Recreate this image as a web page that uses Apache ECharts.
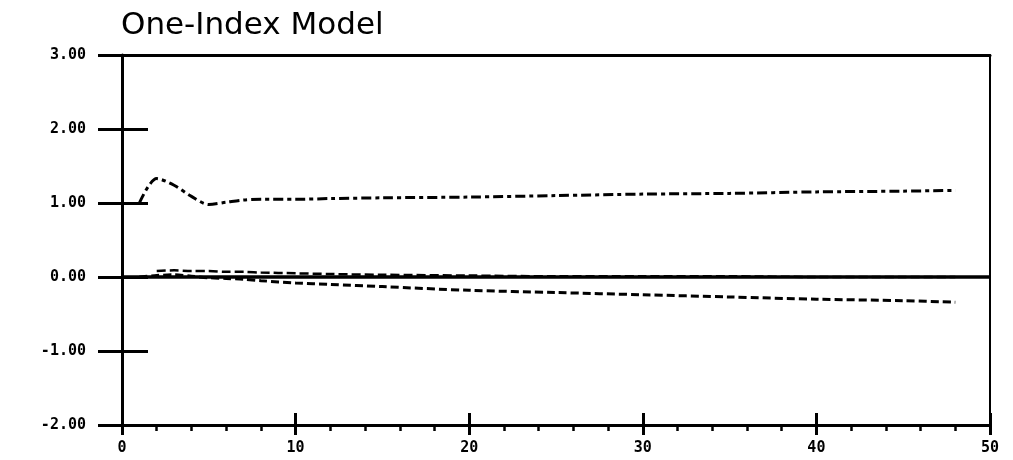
<!DOCTYPE html>
<html>
<head>
<meta charset="utf-8">
<script src="https://cdn.jsdelivr.net/npm/echarts@6/dist/echarts.min.js"></script>
<style>
html,body{margin:0;padding:0;background:#fff;}
#chart{width:1013px;height:460px;}
</style>
</head>
<body>
<div id="chart"></div>
<script>
// Data
const titleText = 'One-Index Model';
const xs = [1, 2, 3, 4, 5, 6, 7, 8, 10, 12, 15, 20, 25, 30, 35, 40, 45, 48];
const dashDotSeries = [1.00, 1.33, 1.24, 1.09, 0.98, 1.01, 1.04, 1.05, 1.05, 1.06, 1.07, 1.08, 1.10, 1.12, 1.13, 1.15, 1.16, 1.17];
const upperDashedSeries = [null, 0.08, 0.09, 0.08, 0.08, 0.07, 0.07, 0.06, 0.05, 0.04, 0.03, 0.02, 0.01, 0.01, 0.01, 0.00, 0.00, 0.00];
const lowerDashedSeries = [0.00, 0.02, 0.03, 0.01, -0.01, -0.02, -0.03, -0.05, -0.08, -0.10, -0.13, -0.18, -0.21, -0.24, -0.27, -0.30, -0.32, -0.34];
const zeroLineX = [0, 50];
const zeroLineY = [0, 0];
const xMin = 0, xMax = 50, xStep = 10;
const yMin = -2, yMax = 3, yStep = 1;

const pair = (a, b) => a.map((v, i) => [v, b[i]]);
const black = '#000';
const labelFont = { fontFamily: 'DejaVu Sans Mono', fontWeight: 'bold', fontSize: 15, color: black };
const grid = { left: 122, right: 23, top: 55, bottom: 35 };
const line = (w) => ({ show: true, onZero: false, lineStyle: { color: black, width: w } });
const noLine = { show: false, onZero: false };

const chart = echarts.init(document.getElementById('chart'), null, { renderer: 'canvas' });
chart.setOption({
  backgroundColor: '#fff',
  animation: false,
  title: {
    text: titleText, left: 116, top: 5,
    textStyle: { fontFamily: 'DejaVu Sans', fontWeight: 'normal', fontSize: 31, color: black }
  },
  grid: [Object.assign({}, grid), Object.assign({}, grid)],
  xAxis: [
    {
      gridIndex: 0, type: 'value', min: xMin, max: xMax, interval: xStep, position: 'bottom',
      axisLine: line(3),
      axisTick: { show: true, inside: false, length: 10, lineStyle: { color: black, width: 3 } },
      minorTick: { show: true, splitNumber: 5, length: 6, lineStyle: { color: black, width: 2.5 } },
      axisLabel: Object.assign({ margin: 16 }, labelFont),
      splitLine: { show: false }, minorSplitLine: { show: false }
    },
    {
      gridIndex: 0, type: 'value', min: xMin, max: xMax, interval: xStep, position: 'top',
      axisLine: line(3),
      axisTick: { show: false }, axisLabel: { show: false }, splitLine: { show: false }
    },
    {
      gridIndex: 1, type: 'value', min: xMin, max: xMax, interval: xStep, position: 'bottom',
      axisLine: noLine,
      axisTick: { show: true, inside: true, length: 12, lineStyle: { color: black, width: 3 } },
      axisLabel: { show: false }, splitLine: { show: false }
    }
  ],
  yAxis: [
    {
      gridIndex: 0, type: 'value', min: yMin, max: yMax, interval: yStep, position: 'left',
      axisLine: line(3),
      axisTick: { show: true, inside: false, length: 24, lineStyle: { color: black, width: 3 } },
      axisLabel: Object.assign({ margin: 36, formatter: v => v.toFixed(2) }, labelFont),
      splitLine: { show: false }
    },
    {
      gridIndex: 0, type: 'value', min: yMin, max: yMax, interval: yStep, position: 'right',
      axisLine: line(2),
      axisTick: { show: false }, axisLabel: { show: false }, splitLine: { show: false }
    },
    {
      gridIndex: 1, type: 'value', min: yMin, max: yMax, interval: yStep, position: 'left',
      axisLine: noLine,
      axisTick: { show: true, inside: true, length: 26, lineStyle: { color: black, width: 3 } },
      axisLabel: { show: false }, splitLine: { show: false }
    }
  ],
  series: [
    {
      name: 'zero', type: 'line', xAxisIndex: 0, yAxisIndex: 0, symbol: 'none',
      data: pair(zeroLineX, zeroLineY),
      lineStyle: { color: black, width: 3.5, type: 'solid' }
    },
    {
      name: 'dashdot', type: 'line', xAxisIndex: 0, yAxisIndex: 0, symbol: 'none', smooth: 0.3,
      data: pair(xs, dashDotSeries),
      lineStyle: { color: black, width: 3, type: [10, 4, 4, 4] }
    },
    {
      name: 'upper', type: 'line', xAxisIndex: 0, yAxisIndex: 0, symbol: 'none', smooth: 0.3,
      data: pair(xs, upperDashedSeries),
      lineStyle: { color: black, width: 2.5, type: [9, 4] }
    },
    {
      name: 'lower', type: 'line', xAxisIndex: 0, yAxisIndex: 0, symbol: 'none', smooth: 0.3,
      data: pair(xs, lowerDashedSeries),
      lineStyle: { color: black, width: 3, type: [8, 4] }
    }
  ]
});
</script>
</body>
</html>
